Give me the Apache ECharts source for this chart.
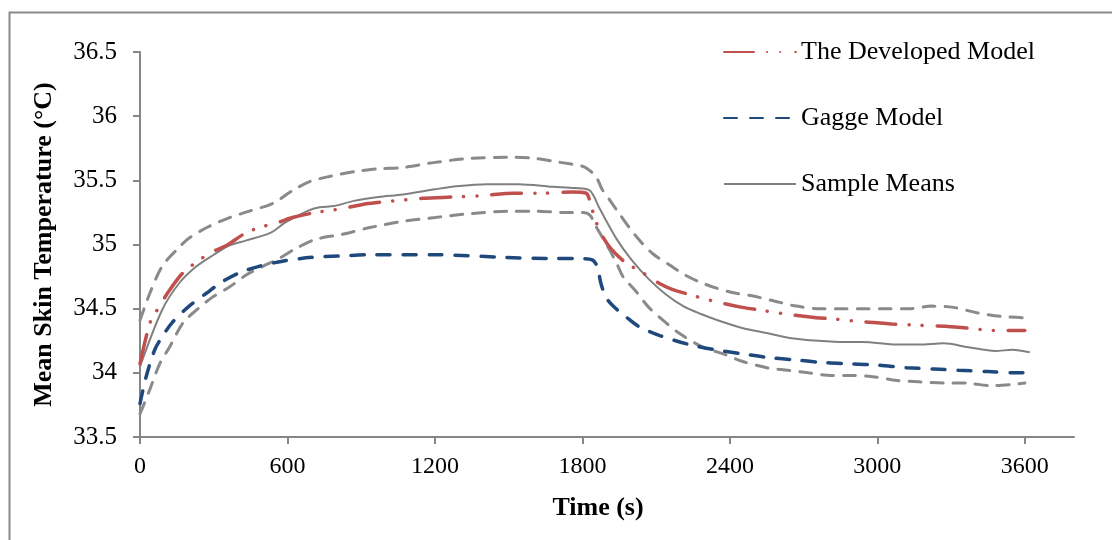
<!DOCTYPE html>
<html>
<head>
<meta charset="utf-8">
<script src="https://cdn.jsdelivr.net/npm/echarts@6/dist/echarts.min.js"></script>
<style>
html,body{margin:0;padding:0;background:#fff;}
#chart{width:1112px;height:540px;}
</style>
</head>
<body>
<div id="chart"></div>
<script>
// ---- data ----
var xTicks = [0, 600, 1200, 1800, 2400, 3000, 3600];
var yTicks = [33.5, 34, 34.5, 35, 35.5, 36, 36.5];

var devTime = [0, 25, 45, 80, 115, 175, 235, 290, 350, 430, 500, 560, 620, 715, 790, 850, 930, 1030, 1090, 1150, 1270, 1390, 1520, 1640, 1760, 1815, 1835, 1855, 1880, 1915, 1975, 2045, 2110, 2165, 2235, 2330, 2450, 2520, 2620, 2750, 2820, 2930, 3000, 3060, 3180, 3300, 3360, 3480, 3600];
var devTemp = [34.07, 34.28, 34.41, 34.52, 34.63, 34.78, 34.87, 34.94, 34.99, 35.09, 35.14, 35.17, 35.21, 35.25, 35.27, 35.29, 35.32, 35.34, 35.35, 35.36, 35.37, 35.38, 35.40, 35.40, 35.41, 35.40, 35.30, 35.18, 35.07, 34.97, 34.86, 34.78, 34.70, 34.65, 34.61, 34.56, 34.51, 34.49, 34.46, 34.43, 34.42, 34.40, 34.39, 34.38, 34.37, 34.36, 34.35, 34.33, 34.33];

var gaggeTime = [0, 25, 60, 90, 130, 200, 270, 335, 405, 485, 580, 700, 810, 930, 1200, 1480, 1680, 1800, 1840, 1860, 1875, 1895, 1925, 1975, 2030, 2115, 2235, 2340, 2445, 2555, 2670, 2780, 2890, 3000, 3120, 3230, 3330, 3450, 3560, 3620];
var gaggeTemp = [33.76, 33.97, 34.18, 34.28, 34.39, 34.52, 34.62, 34.71, 34.78, 34.83, 34.87, 34.90, 34.91, 34.92, 34.92, 34.90, 34.89, 34.89, 34.88, 34.83, 34.70, 34.59, 34.52, 34.44, 34.36, 34.29, 34.22, 34.18, 34.15, 34.12, 34.10, 34.08, 34.07, 34.06, 34.04, 34.03, 34.02, 34.01, 34.00, 34.00];

var meanTime = [0, 90, 160, 230, 300, 360, 430, 530, 590, 680, 730, 790, 870, 970, 1070, 1200, 1270, 1410, 1540, 1680, 1770, 1830, 1870, 1940, 2000, 2070, 2140, 2210, 2280, 2350, 2450, 2550, 2650, 2760, 2870, 2940, 3080, 3170, 3270, 3370, 3480, 3550, 3620];
var meanTemp = [34.05, 34.49, 34.70, 34.83, 34.92, 34.99, 35.03, 35.09, 35.17, 35.26, 35.29, 35.30, 35.34, 35.37, 35.39, 35.43, 35.45, 35.47, 35.47, 35.45, 35.44, 35.42, 35.28, 35.04, 34.88, 34.73, 34.61, 34.52, 34.46, 34.41, 34.35, 34.31, 34.27, 34.25, 34.24, 34.24, 34.22, 34.22, 34.23, 34.20, 34.17, 34.18, 34.16];

var upperTime = [0, 40, 90, 150, 200, 280, 365, 445, 540, 620, 690, 770, 880, 970, 1070, 1200, 1340, 1520, 1610, 1710, 1800, 1820, 1855, 1880, 1910, 1950, 2020, 2085, 2155, 2220, 2300, 2400, 2490, 2580, 2670, 2760, 2860, 2940, 3030, 3130, 3220, 3310, 3400, 3500, 3590];
var upperTemp = [34.41, 34.62, 34.83, 34.96, 35.05, 35.14, 35.21, 35.26, 35.32, 35.42, 35.49, 35.53, 35.57, 35.59, 35.60, 35.64, 35.67, 35.68, 35.67, 35.64, 35.61, 35.59, 35.53, 35.43, 35.35, 35.24, 35.06, 34.93, 34.84, 34.76, 34.69, 34.63, 34.60, 34.56, 34.52, 34.50, 34.50, 34.50, 34.50, 34.50, 34.52, 34.51, 34.47, 34.44, 34.43];

var lowerTime = [0, 40, 80, 120, 175, 230, 295, 365, 430, 500, 565, 635, 715, 825, 930, 1070, 1200, 1340, 1500, 1610, 1720, 1800, 1830, 1855, 1880, 1910, 1945, 1965, 2020, 2070, 2140, 2200, 2290, 2370, 2450, 2550, 2635, 2720, 2810, 2900, 2980, 3080, 3170, 3270, 3360, 3460, 3550, 3600];
var lowerTemp = [33.68, 33.87, 34.07, 34.20, 34.39, 34.49, 34.59, 34.67, 34.76, 34.83, 34.89, 34.97, 35.04, 35.08, 35.13, 35.18, 35.21, 35.24, 35.26, 35.26, 35.25, 35.25, 35.23, 35.14, 35.06, 34.96, 34.83, 34.75, 34.63, 34.51, 34.39, 34.30, 34.20, 34.15, 34.09, 34.04, 34.02, 34.00, 33.98, 33.98, 33.97, 33.94, 33.93, 33.92, 33.92, 33.90, 33.91, 33.92];

function pairs(t, v) { return t.map(function (x, i) { return [x, v[i]]; }); }

var FONT = '"Liberation Serif", "Times New Roman", serif';
var AXIS = '#868686';
var BAND = '#8a8a8a';

var chart = echarts.init(document.getElementById('chart'), null, { renderer: 'canvas' });
chart.setOption({
  animation: false,
  backgroundColor: '#ffffff',
  graphic: [{
    type: 'rect', left: 7, top: 10, silent: true, z: -10,
    shape: { width: 1200, height: 700 },
    style: { fill: 'none', stroke: '#898989', lineWidth: 2 }
  }],
  grid: { left: 140, right: 38, top: 52, bottom: 103, containLabel: false },
  legend: {
    orient: 'vertical', left: 718, top: 34,
    itemWidth: 72, itemHeight: 14, itemGap: 40,
    data: ['The Developed Model', 'Gagge Model', 'Sample Means'],
    itemStyle: { opacity: 0 },
    textStyle: { fontFamily: FONT, fontSize: 26, color: '#000' }
  },
  xAxis: {
    type: 'value', min: 0, max: 3800, interval: 600,
    name: 'Time (s)', nameLocation: 'middle', nameGap: 58,
    nameTextStyle: { fontFamily: FONT, fontSize: 26, fontWeight: 'bold', color: '#000', padding: [0, 18, 0, 0] },
    axisLine: { show: true, onZero: false, lineStyle: { color: AXIS, width: 2 } },
    axisTick: { show: true, inside: false, length: 7, customValues: xTicks, lineStyle: { color: AXIS, width: 2 } },
    axisLabel: { customValues: xTicks, margin: 18, fontFamily: FONT, fontSize: 24, color: '#000',
      formatter: function (v) { return String(Math.round(v)); } },
    splitLine: { show: false }
  },
  yAxis: {
    type: 'value', min: 33.5, max: 36.5, interval: 0.5,
    name: 'Mean Skin Temperature (\u00B0C)', nameLocation: 'middle', nameGap: 83, nameRotate: 90,
    nameTextStyle: { fontFamily: FONT, fontSize: 26, fontWeight: 'bold', color: '#000' },
    axisLine: { show: true, lineStyle: { color: AXIS, width: 2 } },
    axisTick: { show: true, inside: false, length: 7, customValues: yTicks, lineStyle: { color: AXIS, width: 2 } },
    axisLabel: { customValues: yTicks, margin: 23, fontFamily: FONT, fontSize: 25, color: '#000',
      formatter: function (v) { return String(Math.round(v * 10) / 10); } },
    splitLine: { show: false }
  },
  series: [
    {
      name: 'Upper', type: 'line', data: pairs(upperTime, upperTemp), symbol: 'none', smooth: 0.3,
      lineStyle: { color: BAND, width: 3, type: [12, 10], cap: 'round' }, z: 2
    },
    {
      name: 'Lower', type: 'line', data: pairs(lowerTime, lowerTemp), symbol: 'none', smooth: 0.3,
      lineStyle: { color: BAND, width: 3, type: [12, 10], cap: 'round' }, z: 2
    },
    {
      name: 'Gagge Model', type: 'line', data: pairs(gaggeTime, gaggeTemp), symbol: 'none', smooth: 0.3,
      itemStyle: { color: '#1F497D' },
      lineStyle: { color: '#1F497D', width: 3.5, type: [13, 13], cap: 'round' }, z: 3
    },
    {
      name: 'Sample Means', type: 'line', data: pairs(meanTime, meanTemp), symbol: 'none', smooth: 0.3,
      itemStyle: { color: '#808080' },
      lineStyle: { color: '#808080', width: 2 }, z: 4
    },
    {
      name: 'The Developed Model', type: 'line', data: pairs(devTime, devTemp), symbol: 'none', smooth: 0.3,
      itemStyle: { color: '#C0504D' },
      lineStyle: { color: '#C0504D', width: 3.5, type: [30, 13, 0.1, 13, 0.1, 15], cap: 'round' }, z: 5
    }
  ]
});
</script>
</body>
</html>
